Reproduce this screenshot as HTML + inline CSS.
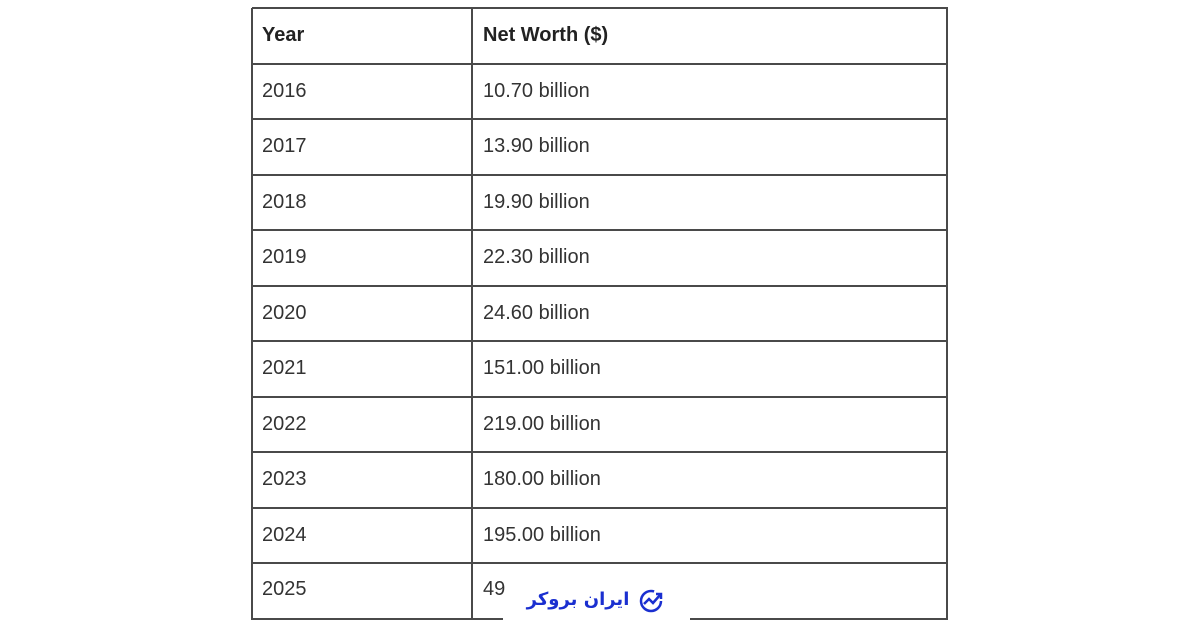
<!DOCTYPE html>
<html><head><meta charset="utf-8"><style>
body{margin:0;width:1200px;height:630px;background:#fff;position:relative;overflow:hidden;font-family:"Liberation Sans",sans-serif;}
.h{position:absolute;left:252px;width:696px;height:2px;background:#4a4a4a;}
.v{position:absolute;top:8px;width:2px;height:612px;background:#4a4a4a;}
.t{position:absolute;font-size:20px;color:#333;line-height:20px;}
.b{font-weight:bold;color:#222;}
</style></head><body>
<div class="h" style="top:7px"></div>
<div class="h" style="top:63px"></div>
<div class="h" style="top:118px"></div>
<div class="h" style="top:174px"></div>
<div class="h" style="top:229px"></div>
<div class="h" style="top:285px"></div>
<div class="h" style="top:340px"></div>
<div class="h" style="top:396px"></div>
<div class="h" style="top:451px"></div>
<div class="h" style="top:507px"></div>
<div class="h" style="top:562px"></div>
<div class="h" style="top:618px"></div>
<div class="v" style="left:251px"></div>
<div class="v" style="left:471px"></div>
<div class="v" style="left:946px"></div>
<div style="position:absolute;left:503px;top:600px;width:187px;height:30px;background:#fff"></div>
<div class="t b" style="left:262px;top:25px">Year</div>
<div class="t b" style="left:483px;top:25px">Net Worth ($)</div>
<div class="t" style="left:262px;top:81px">2016</div><div class="t" style="left:483px;top:81px">10.70 billion</div>
<div class="t" style="left:262px;top:136px">2017</div><div class="t" style="left:483px;top:136px">13.90 billion</div>
<div class="t" style="left:262px;top:192px">2018</div><div class="t" style="left:483px;top:192px">19.90 billion</div>
<div class="t" style="left:262px;top:247px">2019</div><div class="t" style="left:483px;top:247px">22.30 billion</div>
<div class="t" style="left:262px;top:303px">2020</div><div class="t" style="left:483px;top:303px">24.60 billion</div>
<div class="t" style="left:262px;top:358px">2021</div><div class="t" style="left:483px;top:358px">151.00 billion</div>
<div class="t" style="left:262px;top:414px">2022</div><div class="t" style="left:483px;top:414px">219.00 billion</div>
<div class="t" style="left:262px;top:469px">2023</div><div class="t" style="left:483px;top:469px">180.00 billion</div>
<div class="t" style="left:262px;top:525px">2024</div><div class="t" style="left:483px;top:525px">195.00 billion</div>
<div class="t" style="left:262px;top:579px">2025</div><div class="t" style="left:483px;top:579px">49</div>
<div style="position:absolute;left:520px;top:588px;font-family:'DejaVu Sans',sans-serif;font-weight:bold;font-size:18px;line-height:24px;color:#1a2fd0;direction:rtl;width:116px;text-align:center;white-space:nowrap">ایران بروکر</div>
<svg style="position:absolute;left:638px;top:588px" width="28" height="26" viewBox="0 0 28 26"><circle cx="13" cy="13" r="10" fill="none" stroke="#1a2fd0" stroke-width="2.5" stroke-dasharray="50 13"/><polyline points="6,16 11,11 15,15 22,7" fill="none" stroke="#1a2fd0" stroke-width="2.5"/><polyline points="18,6 23,6 23,11" fill="none" stroke="#1a2fd0" stroke-width="2.5"/></svg>
</body></html>
